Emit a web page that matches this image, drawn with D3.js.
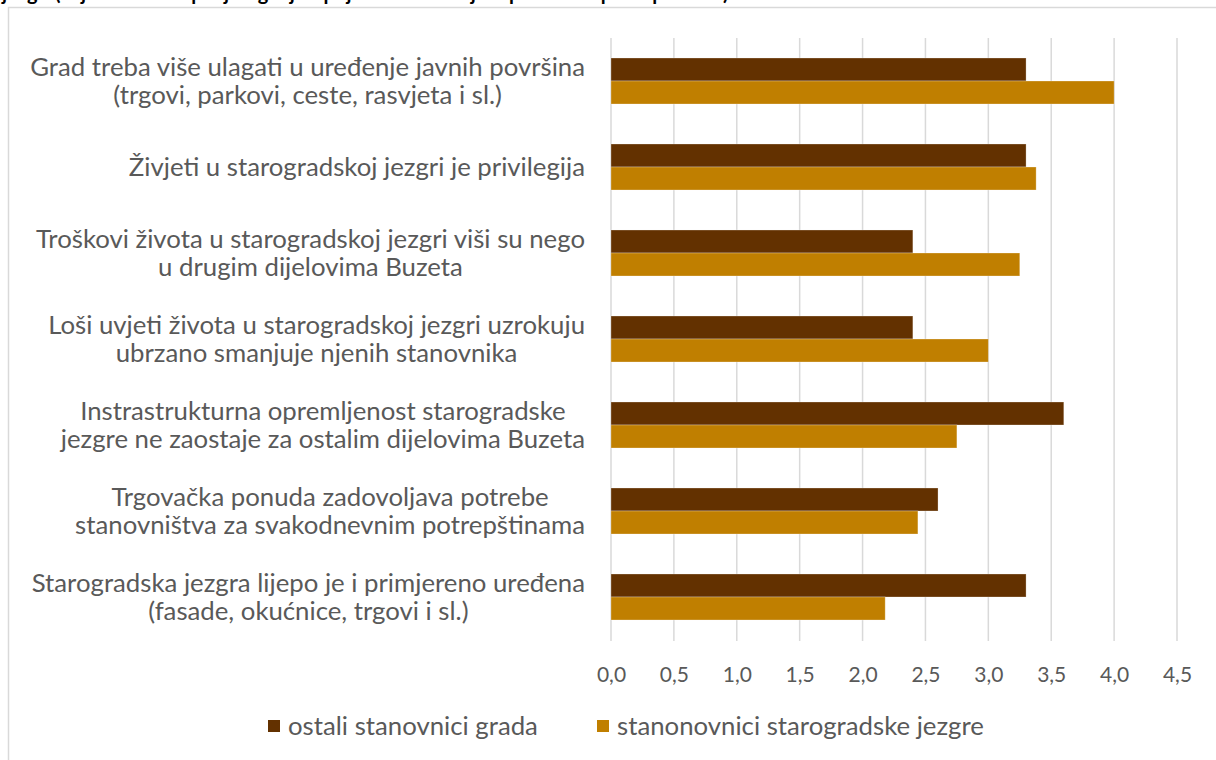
<!DOCTYPE html>
<meta charset="utf-8">
<style>
  body { margin: 0; background: #fff; }
  text { font-family: Lato, "Open Sans", sans-serif; }
  .grid line { stroke: #d9d9d9; stroke-width: 1.5px; }
  .cat text, .x-axis text, .legend text { fill: #595959; }
</style>
<body>
<script src="https://d3js.org/d3.v7.min.js"></script>
<script>
  // categories (top to bottom), each split into lines
  var categories = [
    ["Grad treba više ulagati u uređenje javnih površina", "(trgovi, parkovi, ceste, rasvjeta i sl.)"],
    ["Živjeti u starogradskoj jezgri je privilegija"],
    ["Troškovi života u starogradskoj jezgri viši su nego", "u drugim dijelovima Buzeta"],
    ["Loši uvjeti života u starogradskoj jezgri uzrokuju", "ubrzano smanjuje njenih stanovnika"],
    ["Instrastrukturna opremljenost starogradske", "jezgre ne zaostaje za ostalim dijelovima Buzeta"],
    ["Trgovačka ponuda zadovoljava potrebe", "stanovništva za svakodnevnim potrepštinama"],
    ["Starogradska jezgra lijepo je i primjereno uređena", "(fasade, okućnice, trgovi i sl.)"]
  ];
  var series = ["ostali stanovnici grada", "stanonovnici starogradske jezgre"];
  var ostali = [3.3, 3.3, 2.4, 2.4, 3.6, 2.6, 3.3];
  var jezgra = [4.0, 3.38, 3.25, 3.0, 2.75, 2.44, 2.18];
  var xTicks = [0, 0.5, 1, 1.5, 2, 2.5, 3, 3.5, 4, 4.5];
  var colors = ["#633100", "#c07f00"];

  var width = 1216, height = 760;
  var svg = d3.select("body").append("svg")
    .attr("width", width)
    .attr("height", height);

  // title, cut off at the top edge as in the source picture
  svg.append("text")
    .attr("x", 2).attr("y", 0)
    .style("font-weight", "bold").style("font-size", "20px").style("fill", "#000")
    .text("jezgri (ocjena 1-5: stupanj slaganja s pojedinom tvrdnjom prema skupini ispitanika)");

  // chart frame (runs off the right and bottom edge)
  svg.append("rect")
    .attr("x", 8.5).attr("y", 7.5)
    .attr("width", 1300).attr("height", 900)
    .attr("fill", "#fff").attr("stroke", "#d9d9d9").attr("stroke-width", 1.5);

  var x = d3.scaleLinear().domain([0, 4.5]).range([611, 1177]);
  var keys = categories.map(function (d, i) { return i; });
  var y = d3.scaleBand().domain(keys).range([38, 640])
    .paddingInner(0.465).paddingOuter(0.2325);
  var ySub = d3.scaleBand().domain([0, 1]).range([0, y.bandwidth()]);

  // gridlines
  svg.append("g").attr("class", "grid")
    .selectAll("line").data(xTicks).enter().append("line")
    .attr("x1", function (d) { return x(d); })
    .attr("x2", function (d) { return x(d); })
    .attr("y1", 38).attr("y2", 641);

  // x axis
  var locale = d3.formatLocale({ decimal: ",", thousands: ".", grouping: [3], currency: ["", ""] });
  var xAxis = svg.append("g").attr("class", "x-axis")
    .attr("transform", "translate(0,641)")
    .call(d3.axisBottom(x).tickValues(xTicks).tickSize(0).tickPadding(26)
      .tickFormat(locale.format(".1f")));
  xAxis.select(".domain").remove();
  xAxis.selectAll("text").style("font-size", "21px").style("font-family", "Lato, sans-serif");

  // bars
  var rows = keys.map(function (i) { return { i: i, vals: [ostali[i], jezgra[i]] }; });
  var grp = svg.append("g").selectAll("g").data(rows).enter().append("g")
    .attr("transform", function (d) { return "translate(0," + y(d.i) + ")"; });
  grp.selectAll("rect").data(function (d) { return d.vals; }).enter().append("rect")
    .attr("x", x(0))
    .attr("y", function (d, j) { return ySub(j); })
    .attr("width", function (d) { return x(d) - x(0); })
    .attr("height", ySub.bandwidth())
    .attr("fill", function (d, j) { return colors[j]; })
    .attr("stroke", "rgba(255,255,255,0.35)").attr("stroke-width", 0.8);

  // category labels: centred block, right edge at 585
  var fontSize = 21, lineH = 28, rightEdge = 585;
  var cat = svg.append("g").attr("class", "cat");
  var labels = cat.selectAll("text").data(rows).enter().append("text")
    .style("font-size", fontSize + "px")
    .attr("text-anchor", "middle");
  labels.each(function (d) {
    var t = d3.select(this);
    var lines = categories[d.i];
    var cy = y(d.i) + y.bandwidth() / 2;
    lines.forEach(function (ln, k) {
      t.append("tspan")
        .attr("y", cy + (k - (lines.length - 1) / 2) * lineH)
        .attr("dy", "0.35em")
        .text(ln);
    });
  });
  // fit font so longest line spans about 555px
  var longest = 0;
  labels.selectAll("tspan").each(function () { longest = Math.max(longest, this.getComputedTextLength()); });
  fontSize = fontSize * 555 / longest;
  labels.style("font-size", fontSize + "px");
  labels.each(function () {
    var w = 0;
    d3.select(this).selectAll("tspan").each(function () { w = Math.max(w, this.getComputedTextLength()); });
    d3.select(this).selectAll("tspan").attr("x", rightEdge - w / 2);
  });

  // legend
  var legendX = [268, 597];
  var leg = svg.append("g").attr("class", "legend").selectAll("g").data(series).enter().append("g")
    .attr("transform", function (d, i) { return "translate(" + legendX[i] + ",720)"; });
  leg.append("rect").attr("width", 12).attr("height", 12)
    .attr("fill", function (d, i) { return colors[i]; });
  leg.append("text").attr("x", 20).attr("y", 6).attr("dy", "0.35em")
    .style("font-size", fontSize + "px")
    .text(function (d) { return d; });
</script>
</body>
